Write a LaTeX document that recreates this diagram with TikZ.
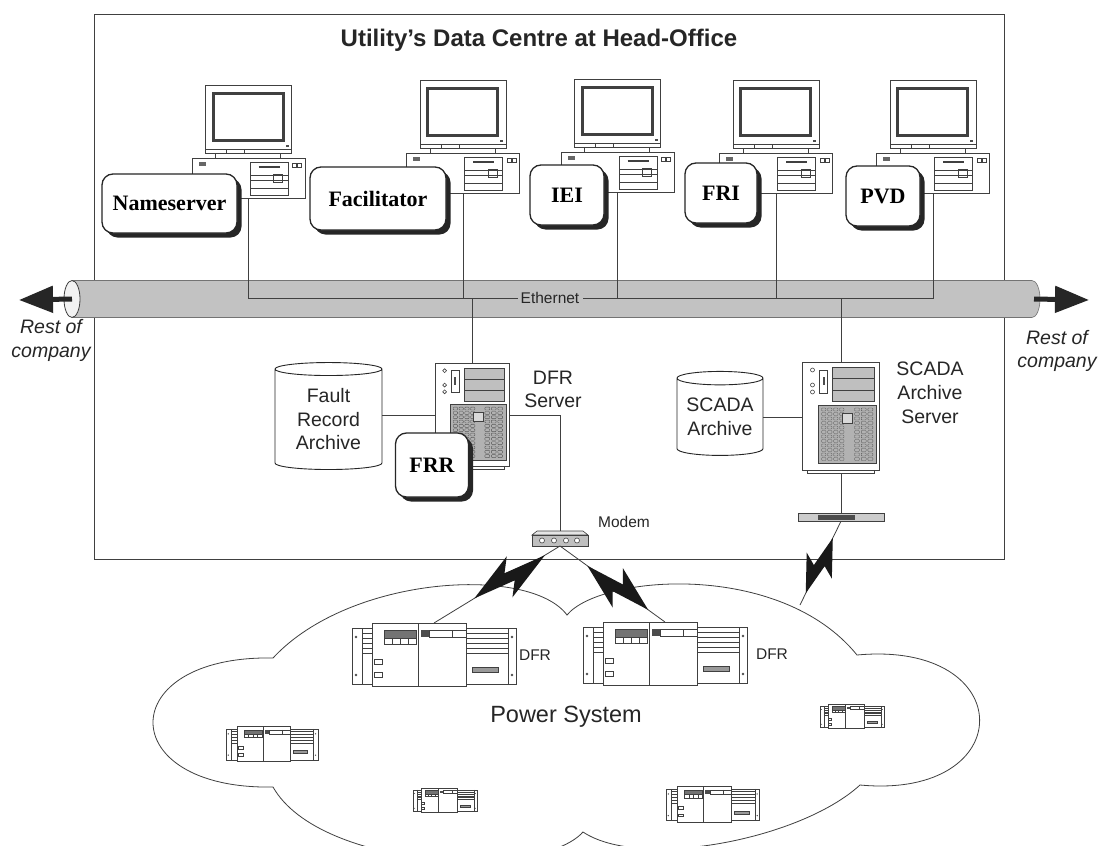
\documentclass[tikz,border=0pt]{standalone}
\usepackage{fontspec}
\setmainfont{Liberation Sans}
\newfontfamily\tms{Liberation Serif}
\usepackage{tikz}
\usetikzlibrary{shapes.geometric,arrows.meta,calc,shadows}

% radio link: thin line with a filled zig-zag between fractions #3 and #4
\newcommand{\zap}[5]{%
  \draw[wire] (#1) -- (#2);
  \fill[bolt] ($(#1)!#3!(#2)$)
    -- ($(#1)!{#3+0.60*(#4-#3)}!(#2)!{1*(#5)}!90:(#2)$)
    -- ($(#1)!{#3+0.47*(#4-#3)}!(#2)!{0.3*(#5)}!90:(#2)$)
    -- ($(#1)!#4!(#2)$)
    -- ($(#1)!{#3+0.40*(#4-#3)}!(#2)!{-1*(#5)}!90:(#2)$)
    -- ($(#1)!{#3+0.53*(#4-#3)}!(#2)!{-0.3*(#5)}!90:(#2)$)
    -- cycle;}

\begin{document}
\begin{tikzpicture}[x=1pt, y=-1pt,
    wire/.style={draw=black!75, line width=0.8pt},
    unit/.style={draw=black!75, line width=0.6pt},
    shell/.style={unit, fill=white},
    slot/.style={draw=black!65, line width=0.4pt, rounded corners=0.8pt},
    screen/.style={draw=black!75, line width=3pt},
    bolt/.style={fill=black!90},
    exit/.style={draw=black!85, line width=5pt, -{Triangle[length=34pt, width=26pt]}},
    agent/.style={rectangle, draw=black!85, line width=1.3pt, rounded corners=11pt, fill=white,
      minimum height=60pt, inner sep=2pt, font=\tms\bfseries\fontsize{22}{24}\selectfont,
      drop shadow={shadow xshift=4.5pt, shadow yshift=-4.5pt, fill=black!85, opacity=1}},
    store/.style={cylinder, shape border rotate=90, aspect=0.2, draw=black!85, line width=0.9pt,
      fill=white, align=center, inner sep=0pt, text=black!85, font=\fontsize{19.5}{23.5}\selectfont},
    caption/.style={align=center, text=black!85, font=\fontsize{19.5}{24}\selectfont},
    small/.style={text=black!85, font=\fontsize{15.5}{18}\selectfont},
    % desktop computer, origin at the bottom middle of the case
    pics/workstation/.style={code={
      \draw[shell] (-43,-113) rectangle (43,-45);
      \draw[screen] (-35.5,-105) rectangle (34.5,-58);
      \draw[unit] (-43,-49) -- (43,-49) (-22,-49) -- (-22,-45) (-4,-49) -- (-4,-45);
      \fill[black!70] (37,-53) rectangle (40,-51.5);
      \draw[unit] (-33,-45) -- (-33,-40) (32,-45) -- (32,-40);
      \draw[shell] (-56.5,-40) rectangle (56.5,0);
      \fill[black!60] (-50,-36) rectangle (-43,-32);
      \draw[unit] (1.5,-36) rectangle (39.5,-3);
      \draw[unit, line width=1.2pt] (10,-31) -- (31,-31);
      \draw[unit] (1.5,-23) -- (39.5,-23) (1.5,-18) -- (39.5,-18) (1.5,-10) -- (39.5,-10);
      \draw[unit] (25,-24) rectangle (34,-16);
      \draw[unit] (44,-35) rectangle (48,-31) (49,-35) rectangle (53,-31);
      \coordinate (-port) at (0,0);
    }},
    % tower server, origin at the top left corner
    pics/tower/.style={code={
      \draw[shell] (0,0) rectangle (77,108);
      \draw[shell] (5,108) rectangle (72,111);
      \foreach \cy in {8,23,30} \draw[unit] (10,\cy) circle (2pt);
      \draw[unit] (17,8) rectangle (25,31);
      \fill[black!70] (20,15) rectangle (22,23);
      \foreach \by in {5,16.5,28} \draw[unit, fill=black!25] (30,\by) rectangle ++(42,11.5);
      \draw[unit, fill=black!30] (16,43) rectangle (74,101);
      \foreach \row in {0,...,11} {
        \foreach \col in {0,...,3} \draw[slot] ({19+\col*6},{46+\row*4.5}) rectangle ++(4.5,3);
        \foreach \col in {0,...,2} \draw[slot] ({52+\col*6.7},{46+\row*4.5}) rectangle ++(5,3);
      }
      \draw[unit, fill=black!15] (40,51) rectangle (50,61);
      \coordinate (-n) at (38.5,0);
      \coordinate (-w) at (0,55);
      \coordinate (-e) at (77,55);
      \coordinate (-s) at (38.5,111);
    }},
    % recorder rack, origin at the top left of the front panel
    pics/rack/.style={code={
      \draw[shell] (0,5) rectangle (164,61);
      \draw[unit] (10,5) -- (10,61) (156,5) -- (156,61);
      \foreach \ly in {10,15,20,25,30} \draw[unit] (10,\ly) -- (20,\ly) (114,\ly) -- (156,\ly);
      \foreach \dx in {4,160} \foreach \dy in {14,52} \fill[black!70] (\dx,\dy) circle (1.3pt);
      \draw[shell] (20,0) rectangle (114,63);
      \draw[unit] (66,0) -- (66,63);
      \draw[unit, fill=black!55] (32,7) rectangle (64,15);
      \foreach \sx in {32,40,48,56} \draw[unit] (\sx,15) rectangle ++(8,6);
      \fill[black!70] (69,7) rectangle (77,14);
      \draw[unit] (77,7) rectangle (114,14) (100,7) -- (100,14);
      \draw[unit] (22,36) rectangle (30,41) (22,49) rectangle (30,54);
      \draw[unit, fill=black!40] (120,44) rectangle (146,49);
      \coordinate (-top) at (82,0);
    }},
    % modem, origin at the top middle
    pics/modem/.style={code={
      \draw[unit, fill=black!10] (-23,0) -- (23,0) -- (28,4) -- (-28,4) -- cycle;
      \draw[unit, fill=black!25] (-28,4) rectangle (28,15);
      \foreach \mx in {-18,-6,6,17} \draw[unit, fill=white] (\mx,9.5) circle (2.5pt);
      \coordinate (-top) at (0,0);
      \coordinate (-bot) at (0,15);
    }}
  ]
  \fill[white] (0,0) rectangle (1101,846);
  \useasboundingbox (0,0) rectangle (1101,846);
  \clip (0,0) rectangle (1101,846);

  % Head office
  \draw[wire] (94,14) rectangle (1004,559);
  \node[text=black!85, font=\bfseries\fontsize{24}{28}\selectfont] (title) at (539,40)
    {Utility’s Data Centre at Head-Office};

  % Ethernet backbone
  \coordinate (pipe-w) at (72,299);
  \coordinate (pipe-e) at (1034,299);
  \coordinate (rest-w) at (19,300);
  \coordinate (rest-e) at (1089,300);
  \path[draw=black!55, fill=black!24, line width=0.6pt] (72,280.5) -- (1032,280.5)
    arc[start angle=90, end angle=-90, x radius=8pt, y radius=18.5pt] -- (72,317.5);
  \draw[draw=black!75, fill=black!5, line width=0.8pt] (pipe-w) ellipse [x radius=8pt, y radius=18.5pt];
  \draw[exit] (pipe-w) -- (rest-w);
  \draw[exit] (pipe-e) -- (rest-e);
  \node[caption, font=\itshape\fontsize{19.5}{24}\selectfont] (restw) at (51,340) {Rest of\\company};
  \node[caption, font=\itshape\fontsize{19.5}{23}\selectfont] (reste) at (1057,351) {Rest of\\company};
  \node[small, fill=black!24, inner xsep=3pt, inner ysep=1pt] (eth) at (550,298) {Ethernet};

  % Workstations and agents
  \pic (nspc) at (248.5,198) {workstation};
  \pic (facpc) at (463,193) {workstation};
  \pic (ieipc) at (617.5,192) {workstation};
  \pic (fripc) at (776,193) {workstation};
  \pic (pvdpc) at (933,193) {workstation};
  \node[agent, minimum width=135pt, minimum height=59pt] (ns) at (169.5,203.5) {Nameserver};
  \node[agent, minimum width=136pt, minimum height=63pt] (fac) at (378,198.5) {Facilitator};
  \node[agent, minimum width=74pt] (iei) at (567,195) {IEI};
  \node[agent, minimum width=72pt] (fri) at (721,193) {FRI};
  \node[agent, minimum width=74pt] (pvd) at (883,196) {PVD};

  % Connections to the bus
  \draw[wire] (nspc-port) |- (eth.west);
  \draw[wire] (pvdpc-port) |- (eth.east);
  \foreach \pc in {facpc, ieipc, fripc} \draw[wire] (\pc-port) -- (\pc-port |- eth);

  % DFR server side
  \pic[scale=0.96] (dfr) at (435,363) {tower};
  \draw[wire] (dfr-n) -- (dfr-n |- eth);
  \node[caption, font=\fontsize{19.5}{23}\selectfont] (dfrlabel) at (553,389.5) {DFR\\Server};
  \node[store, minimum width=107pt, minimum height=107pt] (fra) at (328.5,419.5) {Fault\\Record\\Archive};
  \draw[wire] (dfr-w) -- (dfr-w -| fra.east);
  \node[agent, minimum width=73pt, minimum height=64pt] (frr) at (432,465) {FRR};
  \pic (modem) at (560,531) {modem};
  \node[small] (modemlabel) at (624,522) {Modem};
  \draw[wire] (dfr-e) -| (modem-top);

  % SCADA side
  \pic (sas) at (802.5,362) {tower};
  \draw[wire] (sas-n) -- (sas-n |- eth);
  \node[caption] (saslabel) at (930,393) {SCADA\\Archive\\Server};
  \node[store, minimum width=86pt, minimum height=84pt] (sca) at (720,417) {SCADA\\Archive};
  \draw[wire] (sas-w) -- (sas-w -| sca.east);
  \node[draw=black!75, fill=black!20, minimum width=86pt, minimum height=8pt, inner sep=0pt] (radio) at (841,517) {};
  \fill[black!70] ($(radio.west)+(20,-2.5)$) rectangle ($(radio.west)+(57,2.5)$);
  \draw[wire] (sas-s) -- (radio.north);

  % Power system cloud
  \draw[wire, fill=white] (273,658) .. controls (350,575) and (530,565) .. (567,615)
    .. controls (600,575) and (780,560) .. (857,655)
    .. controls (1020,640) and (1020,800) .. (860,785)
    .. controls (800,840) and (640,870) .. (583,832)
    .. controls (540,880) and (320,870) .. (273,787)
    .. controls (113,790) and (113,655) .. (273,658) -- cycle;
  \coordinate (cloudtop) at (800,605);
  \pic (dfr1) at (352,623) {rack};
  \pic (dfr2) at (583,622) {rack};
  \pic[scale=0.56] at (226,726) {rack};
  \pic[scale=0.39] at (413,788) {rack};
  \pic[scale=0.39] at (820,704) {rack};
  \pic[scale=0.57] at (666,786) {rack};
  \node[small] (dfr1label) at (535,655) {DFR};
  \node[small] (dfr2label) at (772,654) {DFR};
  \node[text=black!85, font=\fontsize{23.5}{26}\selectfont] (psys) at (566,717) {Power System};

  % Radio links
  \zap{modem-bot}{dfr1-top}{0.12}{0.68}{19pt}
  \zap{modem-bot}{dfr2-top}{0.26}{0.84}{-19pt}
  \zap{radio.south}{cloudtop}{0.20}{0.86}{17pt}
\end{tikzpicture}
\end{document}
